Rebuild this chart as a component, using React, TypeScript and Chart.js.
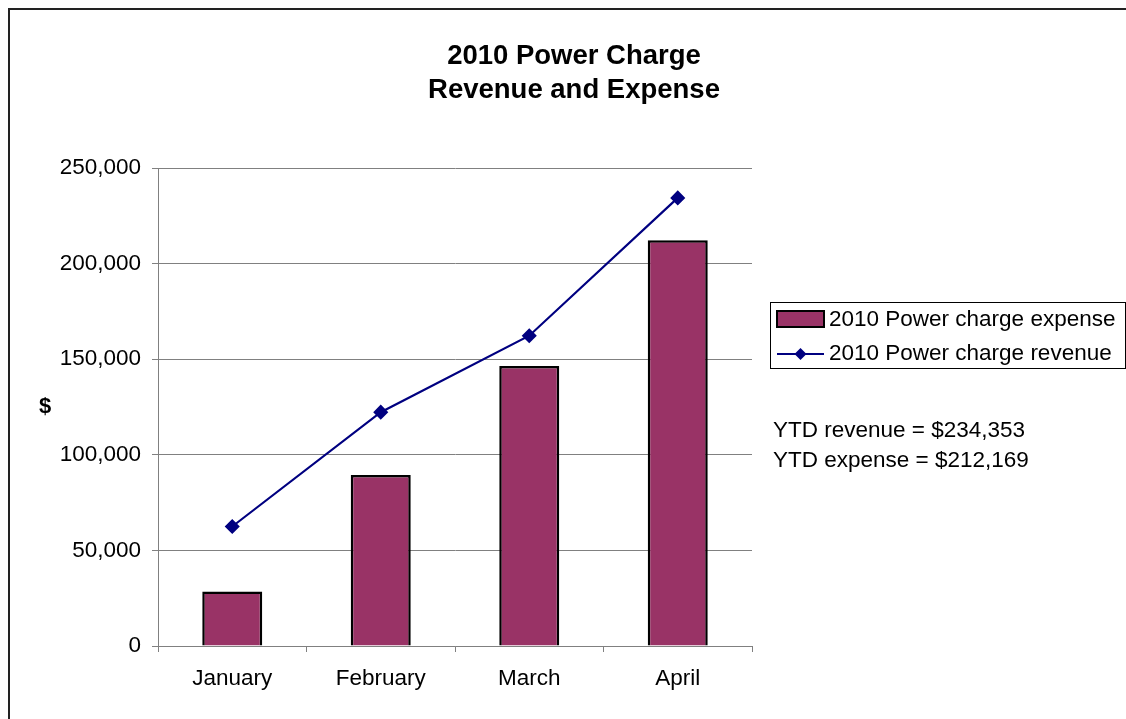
import React, { useEffect, useRef } from "react";
import { Chart, registerables } from "chart.js";

Chart.register(...registerables);

const months = ["January", "February", "March", "April"];
const expense = [28500, 89500, 146500, 212169];
const revenue = [62500, 122300, 162300, 234353];
const titleLines = ["2010 Power Charge", "Revenue and Expense"];
const expenseLabel = "2010 Power charge expense";
const revenueLabel = "2010 Power charge revenue";
const ytdLines = ["YTD revenue = $234,353", "YTD expense = $212,169"];
const yAxisTitle = "$";

const FONT = "'Liberation Sans', Arial, sans-serif";
const BAR_COLOR = "#993366";
const LINE_COLOR = "#000080";

const extrasPlugin = {
  id: "extras",
  afterDraw(chart: any) {
    const ctx = chart.ctx as CanvasRenderingContext2D;
    ctx.save();
    // frame
    ctx.strokeStyle = "#222";
    ctx.lineWidth = 2;
    ctx.beginPath();
    ctx.moveTo(9, 719);
    ctx.lineTo(9, 9);
    ctx.lineTo(1126, 9);
    ctx.stroke();

    // title
    ctx.fillStyle = "#000";
    ctx.font = `bold 27.5px ${FONT}`;
    ctx.textAlign = "center";
    ctx.textBaseline = "middle";
    ctx.fillText(titleLines[0], 574, 56);
    ctx.fillText(titleLines[1], 574, 90);

    // y-axis title
    ctx.font = `bold 22px ${FONT}`;
    ctx.fillText(yAxisTitle, 45, 407);

    // legend box
    ctx.strokeStyle = "#000";
    ctx.lineWidth = 1;
    ctx.strokeRect(770.5, 302.5, 355, 66);
    // expense swatch
    ctx.fillStyle = BAR_COLOR;
    ctx.fillRect(777, 311, 47, 16);
    ctx.lineWidth = 2;
    ctx.strokeRect(777, 311, 47, 16);
    // revenue swatch
    ctx.strokeStyle = LINE_COLOR;
    ctx.lineWidth = 2;
    ctx.beginPath();
    ctx.moveTo(777, 354);
    ctx.lineTo(824, 354);
    ctx.stroke();
    ctx.fillStyle = LINE_COLOR;
    ctx.beginPath();
    ctx.moveTo(800.5, 348);
    ctx.lineTo(806.5, 354);
    ctx.lineTo(800.5, 360);
    ctx.lineTo(794.5, 354);
    ctx.closePath();
    ctx.fill();

    ctx.fillStyle = "#000";
    ctx.font = `22.5px ${FONT}`;
    ctx.textAlign = "left";
    ctx.textBaseline = "middle";
    ctx.fillText(expenseLabel, 829, 320);
    ctx.fillText(revenueLabel, 829, 354);

    ctx.fillText(ytdLines[0], 773, 431);
    ctx.fillText(ytdLines[1], 773, 461);
    ctx.restore();
  },
};

export default function App() {
  const ref = useRef<HTMLCanvasElement | null>(null);

  useEffect(() => {
    if (!ref.current) return;
    const chart = new Chart(ref.current, {
      type: "bar",
      data: {
        labels: months,
        datasets: [
          {
            type: "line",
            label: revenueLabel,
            data: revenue,
            borderColor: LINE_COLOR,
            backgroundColor: LINE_COLOR,
            borderWidth: 2.2,
            pointStyle: "rectRot",
            pointRadius: 6,
            pointBackgroundColor: LINE_COLOR,
            pointBorderColor: LINE_COLOR,
            tension: 0,
            order: 0,
          } as any,
          {
            type: "bar",
            label: expenseLabel,
            data: expense,
            backgroundColor: BAR_COLOR,
            borderColor: "#000",
            borderWidth: 2.5,
            barPercentage: 0.8,
            categoryPercentage: 0.505,
            order: 1,
          },
        ],
      },
      options: {
        responsive: false,
        animation: false,
        devicePixelRatio: 1,
        layout: { padding: { left: 0, top: 168, right: 374, bottom: 0 } },
        plugins: {
          legend: { display: false },
          title: { display: false },
          tooltip: { enabled: false },
        },
        scales: {
          x: {
            offset: true,
            grid: {
              offset: true,
              drawOnChartArea: false,
              drawTicks: true,
              tickLength: 6,
              color: "#808080",
            },
            border: { display: true, color: "#808080", width: 1 },
            ticks: {
              color: "#000",
              font: { family: FONT, size: 22.5 },
              padding: 13,
              maxRotation: 0,
            },
            afterFit(scale: any) {
              scale.height = 73;
            },
          },
          y: {
            min: 0,
            max: 250000,
            grid: {
              color: "#808080",
              tickLength: 6,
              lineWidth: 1,
            },
            border: { display: true, color: "#808080", width: 1 },
            ticks: {
              stepSize: 50000,
              color: "#000",
              font: { family: FONT, size: 22.5 },
              padding: 11,
              callback: (v: any) => Number(v).toLocaleString("en-US"),
            },
            afterFit(scale: any) {
              scale.width = 158;
            },
          },
        },
      },
      plugins: [extrasPlugin],
    });
    return () => chart.destroy();
  }, []);

  return (
    <div style={{ position: "fixed", left: 0, top: 0, width: 1126, height: 719, background: "#fff", overflow: "hidden" }}>
      <canvas ref={ref} width={1126} height={719} style={{ display: "block" }} />
    </div>
  );
}
